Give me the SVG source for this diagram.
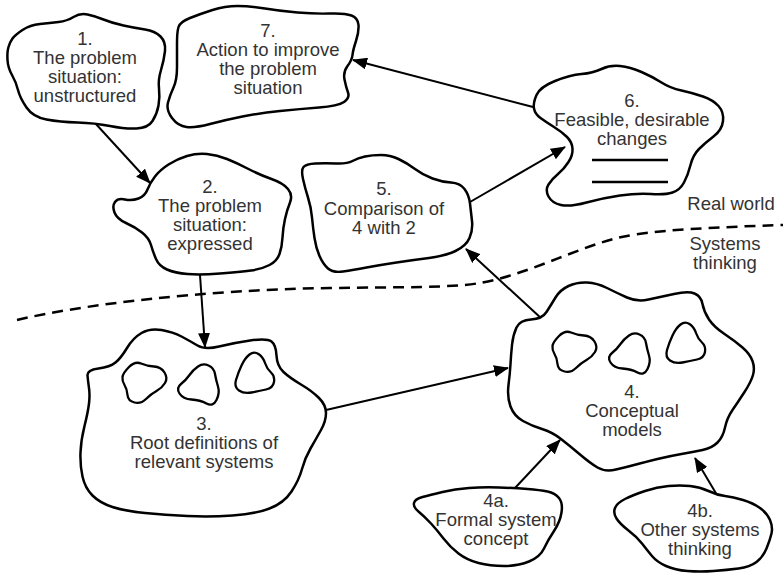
<svg xmlns="http://www.w3.org/2000/svg" width="783" height="574" viewBox="0 0 783 574">
<style>
.blob{fill:#fff;stroke:#000;stroke-width:2.5;stroke-linejoin:round}
.sb{fill:none;stroke:#000;stroke-width:2.3}
.t{font-family:"Liberation Sans",Arial,sans-serif;font-size:18.5px;fill:#333;text-anchor:middle}
.c{fill:none;stroke:#000;stroke-width:2}
.uline{stroke:#000;stroke-width:2.5}
</style>
<defs>
<marker id="ah" markerUnits="userSpaceOnUse" markerWidth="15" markerHeight="12" refX="14" refY="6" orient="auto">
<path d="M0,0 L15,6 L0,12 Z" fill="#000"/>
</marker>
<path id="sA" class="sb" d="M-22.5,-6 Q-22,-10 -16,-16 Q-10,-22 -4,-19.5 Q2,-17 9,-16.5 Q16,-16 19.5,-10.5 Q23,-5 20,0 Q17,5 11.5,8 Q6,11 1,16 Q-4,21 -10.5,19.5 Q-17,18 -17.5,12 Q-18,6 -20.5,2 Q-23,-2 -22.5,-6 Z"/>
<path id="sB" class="sb" d="M-18.5,7.5 Q-22,2 -17,-2 Q-12,-6 -8.5,-11 Q-5,-16 0,-19.5 Q5,-23 10.5,-20.5 Q16,-18 17,-12 Q18,-6 20,0.5 Q22,7 18.5,14 Q15,21 8.5,17.5 Q2,14 -6.5,13.5 Q-15,13 -18.5,7.5 Z"/>
<path id="sC" class="sb" d="M-15,17.5 Q-20,14 -18,7 Q-16,0 -12.5,-7.5 Q-9,-15 -4.5,-18.5 Q0,-22 4.5,-19 Q9,-16 11,-10 Q13,-4 17,-0.5 Q21,3 20,9 Q19,15 12,16.5 Q5,18 -2.5,19.5 Q-10,21 -15,17.5 Z"/>
</defs>
<rect width="783" height="574" fill="#fff"/>

<g id="boundary">
<path d="M17,320 C80,305 200,290 330,288 C400,287 450,288 480,283 C520,276 560,256 600,243 C630,233 660,229 783,225" fill="none" stroke="#000" stroke-width="2.5" stroke-dasharray="11 7"/>
<text class="t" x="731" y="210">Real world</text>
<text class="t" x="725" y="250">Systems</text>
<text class="t" x="725" y="269">thinking</text>
</g>

<g id="connectors">
<line class="c" x1="95" y1="123" x2="150" y2="183" marker-end="url(#ah)"/>
<line class="c" x1="200" y1="275" x2="205" y2="347" marker-end="url(#ah)"/>
<line class="c" x1="533" y1="107" x2="353" y2="60" marker-end="url(#ah)"/>
<line class="c" x1="470" y1="202" x2="565" y2="147" marker-end="url(#ah)"/>
<line class="c" x1="542" y1="319" x2="466" y2="249" marker-end="url(#ah)"/>
<line class="c" x1="326" y1="410" x2="508" y2="368" marker-end="url(#ah)"/>
<line class="c" x1="515" y1="488" x2="560" y2="440" marker-end="url(#ah)"/>
<line class="c" x1="717" y1="495" x2="695" y2="458" marker-end="url(#ah)"/>
</g>

<g id="node1">
<path class="blob" d="M12.5,38.5 Q15,35 22.5,30 Q30,25 40,24 Q50,23 58.5,22 Q67,21 73.5,17 Q80,13 87.5,14.5 Q95,16 103.5,19.5 Q112,23 123.5,25.5 Q135,28 145,29.5 Q155,31 160.5,36.5 Q166,42 165,51 Q164,60 161,70 Q158,80 159,88.5 Q160,97 158.5,105.5 Q157,114 152.5,121 Q148,128 136.5,128.5 Q125,129 110,126 Q95,123 77.5,122.5 Q60,122 46.5,119.5 Q33,117 26.5,107.5 Q20,98 18,90 Q16,82 12,75 Q8,68 7.5,60 Q7,52 8.5,47 Q10,42 12.5,38.5 Z"/>
<text class="t" x="85" y="45">1.</text>
<text class="t" x="85" y="64">The problem</text>
<text class="t" x="85" y="83">situation:</text>
<text class="t" x="85" y="102">unstructured</text>
</g>

<g id="node7">
<path class="blob" d="M178.5,27 Q180,22 190,18 Q200,14 212.5,10 Q225,6 237.5,6 Q250,6 265,8.5 Q280,11 297.5,12.5 Q315,14 330,13.5 Q345,13 351.5,15.5 Q358,18 358.5,25 Q359,32 356,41 Q353,50 352.5,55 Q352,60 347.5,66 Q343,72 344.5,79.5 Q346,87 348,92.5 Q350,98 344,102 Q338,106 319,107.5 Q300,109 280,111 Q260,113 242.5,116.5 Q225,120 210,124 Q195,128 186.5,127 Q178,126 172,118 Q166,110 168,102.5 Q170,95 173.5,87.5 Q177,80 177,67.5 Q177,55 177,43.5 Q177,32 178.5,27 Z"/>
<text class="t" x="268" y="37">7.</text>
<text class="t" x="268" y="56">Action to improve</text>
<text class="t" x="268" y="75">the problem</text>
<text class="t" x="268" y="94">situation</text>
</g>

<g id="node2">
<path class="blob" d="M147.5,189.5 Q150,183 155,176.5 Q160,170 168.5,164.5 Q177,159 187,156 Q197,153 207,154 Q217,155 227,159 Q237,163 248.5,169 Q260,175 271.5,179 Q283,183 288,189 Q293,195 290,202.5 Q287,210 285,219 Q283,228 282.5,237.5 Q282,247 279.5,254 Q277,261 269.5,265 Q262,269 251,270.5 Q240,272 220,273.5 Q200,275 187.5,274 Q175,273 167,269.5 Q159,266 156,259 Q153,252 151,245 Q149,238 142,232.5 Q135,227 126,223 Q117,219 114.5,212.5 Q112,206 115,202 Q118,198 125,199.5 Q132,201 138.5,198.5 Q145,196 147.5,189.5 Z"/>
<text class="t" x="210" y="193">2.</text>
<text class="t" x="210" y="212">The problem</text>
<text class="t" x="210" y="231">situation:</text>
<text class="t" x="210" y="250">expressed</text>
</g>

<g id="node5">
<path class="blob" d="M303,179 Q301,170 303.5,167 Q306,164 315.5,163.5 Q325,163 336,163.5 Q347,164 352.5,161 Q358,158 365,156.5 Q372,155 381,155 Q390,155 398.5,159 Q407,163 415,169 Q423,175 432.5,178.5 Q442,182 451,182.5 Q460,183 464.5,189 Q469,195 470,203.5 Q471,212 472,221 Q473,230 469.5,238 Q466,246 455.5,251 Q445,256 429,258 Q413,260 396.5,262.5 Q380,265 366.5,267.5 Q353,270 343,271.5 Q333,273 328,268.5 Q323,264 319.5,256 Q316,248 314.5,238 Q313,228 312,217.5 Q311,207 308,197.5 Q305,188 303,179 Z"/>
<text class="t" x="384" y="195">5.</text>
<text class="t" x="384" y="214.5">Comparison of</text>
<text class="t" x="384" y="234">4 with 2</text>
</g>

<g id="node6">
<path class="blob" d="M534,108.5 Q533,103 536.5,95 Q540,87 555,81 Q570,75 581.5,74 Q593,73 601.5,69 Q610,65 620,66 Q630,67 641.5,72 Q653,77 661.5,82.5 Q670,88 681.5,90.5 Q693,93 703,96.5 Q713,100 718.5,106 Q724,112 723,121 Q722,130 713.5,136.5 Q705,143 699,149 Q693,155 690.5,165 Q688,175 684,182.5 Q680,190 672.5,192.5 Q665,195 651,194 Q637,193 620,195.5 Q603,198 586.5,202.5 Q570,207 561,205 Q552,203 548.5,196.5 Q545,190 548.5,184.5 Q552,179 558,174 Q564,169 568.5,162 Q573,155 572.5,148.5 Q572,142 567,137 Q562,132 554,127 Q546,122 540.5,118 Q535,114 534,108.5 Z"/>
<text class="t" x="632" y="107">6.</text>
<text class="t" x="632" y="126">Feasible, desirable</text>
<text class="t" x="632" y="145">changes</text>
<line class="uline" x1="592" y1="160" x2="668" y2="160"/>
<line class="uline" x1="592" y1="182" x2="668" y2="182"/>
</g>

<g id="node3">
<path class="blob" d="M87.5,375.5 Q87,370 98.5,368.5 Q110,367 115.5,362.5 Q121,358 127,348 Q133,338 141.5,333 Q150,328 161.5,330 Q173,332 181.5,336.5 Q190,341 197.5,345.5 Q205,350 219,346.5 Q233,343 250,340.5 Q267,338 271.5,341.5 Q276,345 276.5,355.5 Q277,366 283.5,372 Q290,378 301,384.5 Q312,391 319,398 Q326,405 326,413 Q326,421 321,430 Q316,439 310.5,448.5 Q305,458 302,469 Q299,480 291.5,491.5 Q284,503 269.5,508.5 Q255,514 232.5,515.5 Q210,517 187.5,516 Q165,515 145,513 Q125,511 112.5,507 Q100,503 92.5,495.5 Q85,488 82.5,476.5 Q80,465 80.5,452.5 Q81,440 84.5,426 Q88,412 89,403.5 Q90,395 89,388 Q88,381 87.5,375.5 Z"/>
<use href="#sA" x="145" y="383"/>
<use href="#sB" x="198" y="386"/>
<use href="#sC" x="254" y="373"/>
<text class="t" x="204" y="430">3.</text>
<text class="t" x="204" y="449">Root definitions of</text>
<text class="t" x="204" y="468">relevant systems</text>
</g>

<g id="node4">
<path class="blob" d="M516.5,327.5 Q520,320 531,319.5 Q542,319 546.5,312 Q551,305 555.5,297.5 Q560,290 568.5,286 Q577,282 587,282.5 Q597,283 607,288 Q617,293 627,297.5 Q637,302 648.5,299.5 Q660,297 674,294 Q688,291 694.5,293.5 Q701,296 702.5,304 Q704,312 709,319.5 Q714,327 724.5,334 Q735,341 742.5,347.5 Q750,354 752.5,361 Q755,368 753,375 Q751,382 744.5,392 Q738,402 732.5,410 Q727,418 725,427.5 Q723,437 717.5,442.5 Q712,448 702.5,450 Q693,452 681.5,454 Q670,456 657.5,459 Q645,462 636,464.5 Q627,467 616,469.5 Q605,472 597.5,467.5 Q590,463 580,454.5 Q570,446 561,439 Q552,432 542,429 Q532,426 523,421 Q514,416 510.5,406.5 Q507,397 508.5,385 Q510,373 510.5,364 Q511,355 512,345 Q513,335 516.5,327.5 Z"/>
<use href="#sA" x="575" y="352"/>
<use href="#sB" x="629" y="355"/>
<use href="#sC" x="685" y="343"/>
<text class="t" x="632" y="398">4.</text>
<text class="t" x="632" y="417">Conceptual</text>
<text class="t" x="632" y="436">models</text>
</g>

<g id="node4a">
<path class="blob" d="M527.5,489 Q515,488 499,487.5 Q483,487 469,488 Q455,489 442.5,492 Q430,495 422.5,497 Q415,499 414,503 Q413,507 419,512 Q425,517 431,523.5 Q437,530 443.5,538.5 Q450,547 458.5,553.5 Q467,560 478.5,563 Q490,566 504,566 Q518,566 529,561.5 Q540,557 544,548.5 Q548,540 554,531 Q560,522 561.5,512.5 Q563,503 559,498 Q555,493 547.5,491.5 Q540,490 527.5,489 Z"/>
<text class="t" x="496" y="507">4a.</text>
<text class="t" x="496" y="526">Formal system</text>
<text class="t" x="496" y="545">concept</text>
</g>

<g id="node4b">
<path class="blob" d="M725,496 Q717,495 708.5,491 Q700,487 690,486 Q680,485 668.5,486 Q657,487 645,491 Q633,495 625,499 Q617,503 615,508 Q613,513 616.5,518.5 Q620,524 628.5,530.5 Q637,537 642,543.5 Q647,550 652,556 Q657,562 666,566 Q675,570 687.5,571 Q700,572 713.5,571 Q727,570 738.5,568.5 Q750,567 756.5,562 Q763,557 766.5,548.5 Q770,540 771.5,533.5 Q773,527 770,520 Q767,513 760,508 Q753,503 743,500 Q733,497 725,496 Z"/>
<text class="t" x="700" y="517">4b.</text>
<text class="t" x="700" y="536">Other systems</text>
<text class="t" x="700" y="555">thinking</text>
</g>
</svg>
